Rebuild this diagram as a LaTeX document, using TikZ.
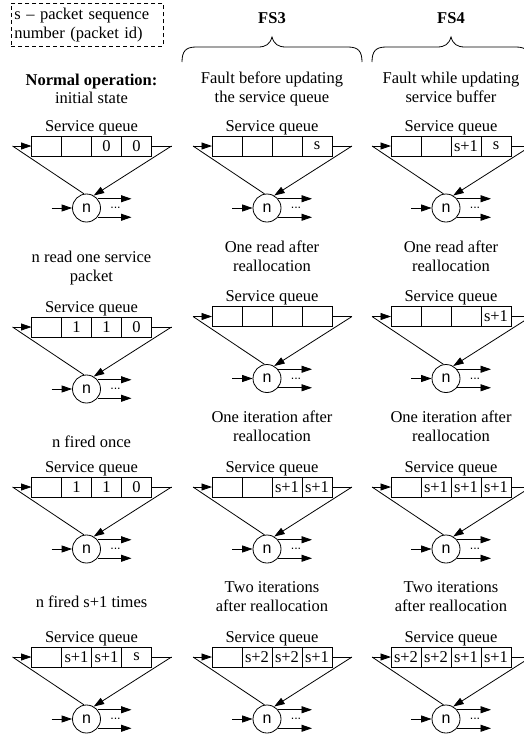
\documentclass[tikz,border=0pt]{standalone}
\usepackage{fontspec}
\setmainfont{Liberation Serif}
\newfontfamily\sansf{Liberation Sans}
\usetikzlibrary{arrows.meta}
\newcommand{\myfs}{\fontsize{16.5}{19}\selectfont}
\tikzset{
  cellbox/.style={draw, minimum width=30pt, minimum height=20pt, inner sep=0pt, outer sep=0pt, font=\myfs},
  qlabel/.style={anchor=base, inner sep=0pt, font=\myfs},
  procnode/.style={circle, draw, minimum size=28pt, inner sep=0pt, font=\sansf\fontsize{16}{16}\selectfont},
  dotsnode/.style={inner sep=0pt, font=\sansf\fontsize{12.5}{12.5}\selectfont},
  lbl/.style={anchor=base, align=center, inner sep=0pt, font=\myfs},
  lblb/.style={anchor=base, align=center, inner sep=0pt, font=\myfs\bfseries},
  arr/.style={-{Triangle[length=10.5pt,width=7pt]}},
}
% #1 name, #2 cx, #3 cy, #4-#7 cell texts
\newcommand{\qunit}[7]{%
  \begin{scope}[shift={(#2,#3)}]
    \node[cellbox] (#1c1) at (-45,0) {#4};
    \node[cellbox] (#1c2) at (-15,0) {#5};
    \node[cellbox] (#1c3) at (15,0) {#6};
    \node[cellbox] (#1c4) at (45,0) {#7};
    \node[qlabel] (#1q) at (0,-15) {Service queue};
    \coordinate (#1la) at (-79,0);
    \coordinate (#1ra) at (80,0);
    \node[procnode] (#1n) at (-5,62) {n};
    \coordinate (#1in) at (-40,62);
    \coordinate (#1out) at (40,62);
    \node[dotsnode] (#1d) at (24,62) {...};
    \draw[arr] (#1la) -- (#1c1.west);
    \draw (#1la) -- (#1n.100);
    \draw (#1c4.east) -- (#1ra);
    \draw[arr] (#1ra) -- (#1n.60);
    \draw[arr] (#1in) -- (#1n.west);
    \draw[arr] (#1n.40) -- (#1n.40 -| #1out);
    \draw[arr] (#1n.-40) -- (#1n.-40 -| #1out);
  \end{scope}%
}
% brace from #1 (left x) to #2 (right x), peak at #3
\newcommand{\topbrace}[3]{%
  \draw (#1,62) .. controls (#1,51) and (#1+4,47) .. (#1+14,47)
        -- (#3-14,47) .. controls (#3-6,47) and (#3-2,44) .. (#3,37)
        .. controls (#3+2,44) and (#3+6,47) .. (#3+14,47)
        -- (#2-14,47) .. controls (#2-4,47) and (#2,51) .. (#2,62);%
}
\begin{document}
\begin{tikzpicture}[x=1pt, y=-1pt, line width=0.8pt]
\useasboundingbox (0,0) rectangle (524,740);
\clip (0,0) rectangle (524,740);

% legend
\node[draw, dash pattern=on 4pt off 3pt, anchor=north west, minimum width=152pt, minimum height=43pt,
      text width=146pt, align=left, inner sep=3pt, font=\myfs] (legend) at (11,3)
      {s -- packet sequence\\number (packet id)};

% headers
\node[lblb] (fs3) at (272,23) {FS3};
\node[lblb] (fs4) at (451,23) {FS4};
\topbrace{182}{362}{272}
\topbrace{372}{530}{451}

% row labels (base anchor = last line baseline)
\node[lblb] (h11) at (91.5,85) {Normal operation:};
\node[lbl] (h11b) at (91.5,103) {initial state};
\node[lbl] (h21) at (272,102) {Fault before updating\\the service queue};
\node[lbl] (h31) at (451,102) {Fault while updating\\service buffer};

\node[lbl] (h12) at (91.5,281) {n read one service\\packet};
\node[lbl] (h22) at (272,271) {One read after\\reallocation};
\node[lbl] (h32) at (451,271) {One read after\\reallocation};

\node[lbl] (h13) at (91.5,447) {n fired once};
\node[lbl] (h23) at (272,441) {One iteration after\\reallocation};
\node[lbl] (h33) at (451,441) {One iteration after\\reallocation};

\node[lbl] (h14) at (91.5,607) {n fired s+1 times};
\node[lbl] (h24) at (272,611) {Two iterations\\after reallocation};
\node[lbl] (h34) at (451,611) {Two iterations\\after reallocation};

% units
\qunit{A}{91.5}{146}{}{}{0}{0}
\qunit{B}{272}{146}{}{}{}{s}
\qunit{C}{451}{146}{}{}{s+1}{s}

\qunit{D}{91.5}{327}{}{1}{1}{0}
\qunit{E}{272}{316.5}{}{}{}{}
\qunit{F}{451}{316.5}{}{}{}{s+1}

\qunit{G}{91.5}{487}{}{1}{1}{0}
\qunit{H}{272}{487}{}{}{s+1}{s+1}
\qunit{I}{451}{487}{}{s+1}{s+1}{s+1}

\qunit{J}{91.5}{657}{}{s+1}{s+1}{s}
\qunit{K}{272}{657}{}{s+2}{s+2}{s+1}
\qunit{L}{451}{657}{s+2}{s+2}{s+1}{s+1}
\end{tikzpicture}
\end{document}
